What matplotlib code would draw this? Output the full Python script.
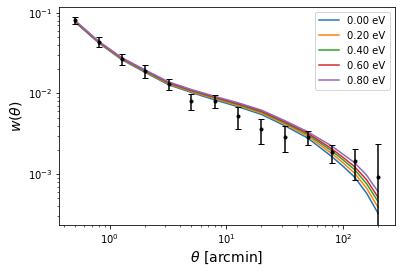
import matplotlib
matplotlib.use('Agg')
import matplotlib.pyplot as plt
import numpy as np

# angular bins of the measurement [arcmin]
theta = [0.5, 0.8, 1.26, 2.0, 3.2, 5.0, 8.0, 12.6, 20.0, 32.0, 50.0, 80.0, 126.0, 200.0]

# measured w(theta) and errors
w_data = [0.081, 0.044, 0.027, 0.019, 0.013, 0.0080, 0.0081, 0.0052, 0.0036,
          0.0029, 0.00286, 0.00186, 0.00144, 0.00091]
w_err = [0.0075, 0.0065, 0.0042, 0.0033, 0.0021, 0.0018, 0.0014, 0.0016, 0.0012,
         0.0010, 0.00055, 0.00047, 0.0006, 0.00143]

# model curves for each neutrino mass
theta_model = [0.5, 0.8, 1.26, 2.0, 3.2, 5.0, 8.0, 12.6, 20.0, 32.0, 50.0,
               80.0, 100.0, 126.0, 160.0, 200.0]
masses = ['0.00 eV', '0.20 eV', '0.40 eV', '0.60 eV', '0.80 eV']
w_m000 = [0.0770, 0.0424, 0.0263, 0.0183, 0.0128, 0.0103, 0.0083, 0.00685,
          0.00550, 0.00396, 0.00280, 0.00166, 0.00126, 0.00092, 0.00058, 0.00033]
w_m020 = [0.0781, 0.0430, 0.0268, 0.0187, 0.0131, 0.01055, 0.00858, 0.00710,
          0.00571, 0.00415, 0.00296, 0.00181, 0.00139, 0.00103, 0.00067, 0.00039]
w_m040 = [0.0790, 0.0435, 0.0272, 0.0190, 0.0134, 0.0108, 0.0088, 0.0073,
          0.0059, 0.0043, 0.0031, 0.00195, 0.00151, 0.00114, 0.00076, 0.00046]
w_m060 = [0.0797, 0.0439, 0.0275, 0.0193, 0.0136, 0.0110, 0.00898, 0.00747,
          0.00605, 0.00443, 0.00322, 0.00207, 0.00162, 0.00124, 0.00085, 0.00052]
w_m080 = [0.0806, 0.0444, 0.0279, 0.0196, 0.0139, 0.0112, 0.00919, 0.00767,
          0.00622, 0.00458, 0.00335, 0.00224, 0.00177, 0.00139, 0.00097, 0.00061]
models = [w_m000, w_m020, w_m040, w_m060, w_m080]

fig = plt.figure(figsize=(400/72, 273/72), dpi=72)
ax = fig.add_axes([0.148, 0.176, 0.8385, 0.7985])

for lab, w in zip(masses, models):
    ax.plot(theta_model, w, label=lab)

ax.errorbar(theta, w_data, yerr=w_err, fmt='k.', capsize=3)

ax.set_xscale('log')
ax.set_yscale('log')
ax.set_xlim(0.367, 278)
ax.set_ylim(2.35e-4, 0.118)
ax.set_xlabel(r'$\theta$ [arcmin]', fontsize=14)
ax.set_ylabel(r'$w(\theta)$', fontsize=14)
ax.legend(loc='upper right', fontsize=10)

fig.savefig('out.png', dpi=72)
